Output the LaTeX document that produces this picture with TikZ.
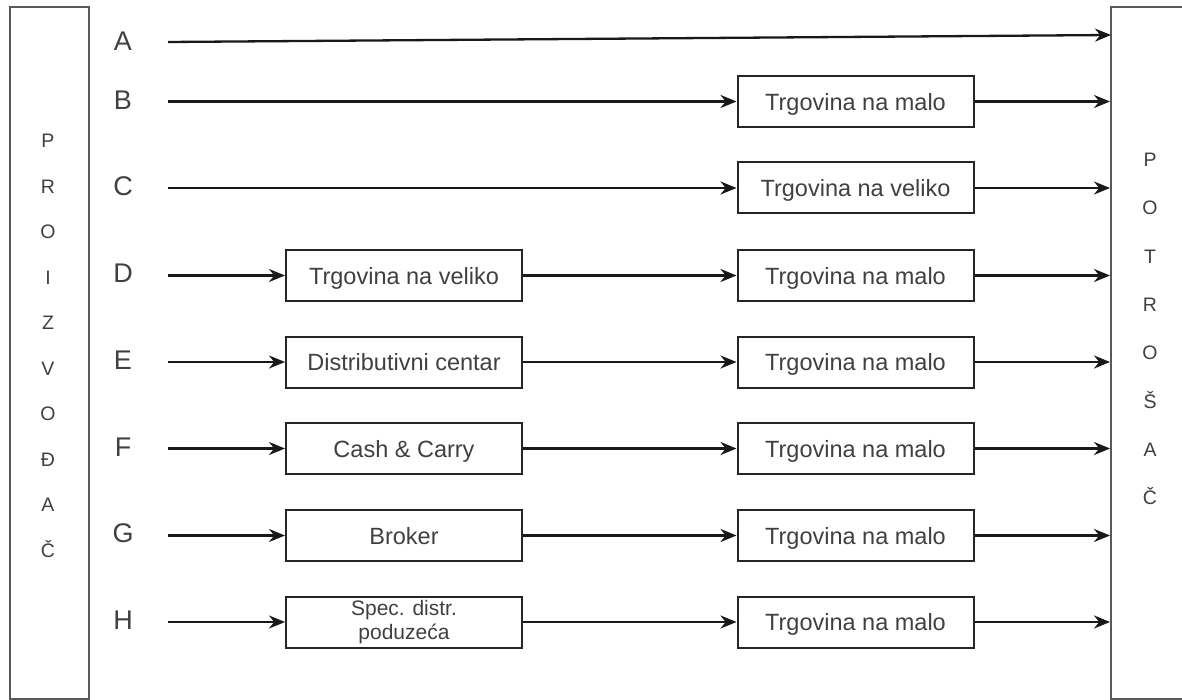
\documentclass[tikz,border=0pt]{standalone}
\usepackage{fontspec}
\setmainfont{Liberation Sans}
\usetikzlibrary{positioning, arrows.meta}

\begin{document}
\begin{tikzpicture}[x=1pt, y=-1pt, every node/.style={text=black!75}]
    \tikzset{
    side/.style={draw=black!65, line width=2pt, shape=rectangle, inner sep=0pt},
    block/.style={draw=black!85, line width=2pt, shape=rectangle, align=center, minimum width=236pt, minimum height=51pt, inner sep=0pt, text depth=0pt, font=\fontsize{23.5}{25}\selectfont},
    letter/.style={inner sep=0pt, font=\fontsize{27}{27}\selectfont},
    vtext/.style={inner sep=0pt, align=center, font=\fontsize{19.5}{45.5}\selectfont},
    line/.style={draw=black!90, line width=2.3pt, -{Stealth[length=16pt,width=13pt]}}
}
\useasboundingbox (0,0) rectangle (1182,700);
\fill[white] (0,0) rectangle (1182,700);

\node [side, minimum width=79pt, minimum height=692pt] (proizvodjac) at (49.5,353) {};
\node [side, minimum width=74pt, minimum height=692pt] (potrosac) at (1148,353) {};
\node [vtext] (lefttext) at (48,346) {P\\R\\O\\I\\Z\\V\\O\\Đ\\A\\Č};
\node [vtext, font=\fontsize{19.5}{48.3}\selectfont] (righttext) at (1150,329) {P\\O\\T\\R\\O\\Š\\A\\Č};

\node [letter] (la) at (123,41) {A};
\node [letter] (lb) at (123,100) {B};
\node [letter] (lc) at (123,186) {C};
\node [letter] (ld) at (123,273) {D};
\node [letter] (le) at (123,360) {E};
\node [letter] (lf) at (123,447) {F};
\node [letter] (lg) at (123,533) {G};
\node [letter] (lh) at (123,620) {H};

\node [block] (malob) at (855.5,101.5) {Trgovina na malo};
\node [block] (velikoc) at (855.5,188) {Trgovina na veliko};
\node [block] (velikod) at (404,275.5) {Trgovina na veliko};
\node [block] (malod) at (855.5,275.5) {Trgovina na malo};
\node [block] (distre) at (404,362) {Distributivni centar};
\node [block] (maloe) at (855.5,362) {Trgovina na malo};
\node [block] (cashf) at (404,448.5) {Cash \& Carry};
\node [block] (malof) at (855.5,448.5) {Trgovina na malo};
\node [block] (brokerg) at (404,535.5) {Broker};
\node [block] (malog) at (855.5,535.5) {Trgovina na malo};
\node [block, text depth=, font=\fontsize{21}{24}\selectfont] (spech) at (404,622) {Spec. distr.\\poduzeća};
\node [block] (maloh) at (855.5,622) {Trgovina na malo};

\coordinate (starta) at (168,42);
\coordinate (enda) at (1111,35);

\path [line] (starta) -- (enda);
\path [line] ([xshift=45pt] lb.center |- malob) -- (malob);
\path [line] (malob) -- (potrosac.west |- malob);
\path [line] ([xshift=45pt] lc.center |- velikoc) -- (velikoc);
\path [line] (velikoc) -- (potrosac.west |- velikoc);
\path [line] ([xshift=45pt] ld.center |- velikod) -- (velikod);
\path [line] (velikod) -- (malod);
\path [line] (malod) -- (potrosac.west |- malod);
\path [line] ([xshift=45pt] le.center |- distre) -- (distre);
\path [line] (distre) -- (maloe);
\path [line] (maloe) -- (potrosac.west |- maloe);
\path [line] ([xshift=45pt] lf.center |- cashf) -- (cashf);
\path [line] (cashf) -- (malof);
\path [line] (malof) -- (potrosac.west |- malof);
\path [line] ([xshift=45pt] lg.center |- brokerg) -- (brokerg);
\path [line] (brokerg) -- (malog);
\path [line] (malog) -- (potrosac.west |- malog);
\path [line] ([xshift=45pt] lh.center |- spech) -- (spech);
\path [line] (spech) -- (maloh);
\path [line] (maloh) -- (potrosac.west |- maloh);

\end{tikzpicture}
\end{document}
